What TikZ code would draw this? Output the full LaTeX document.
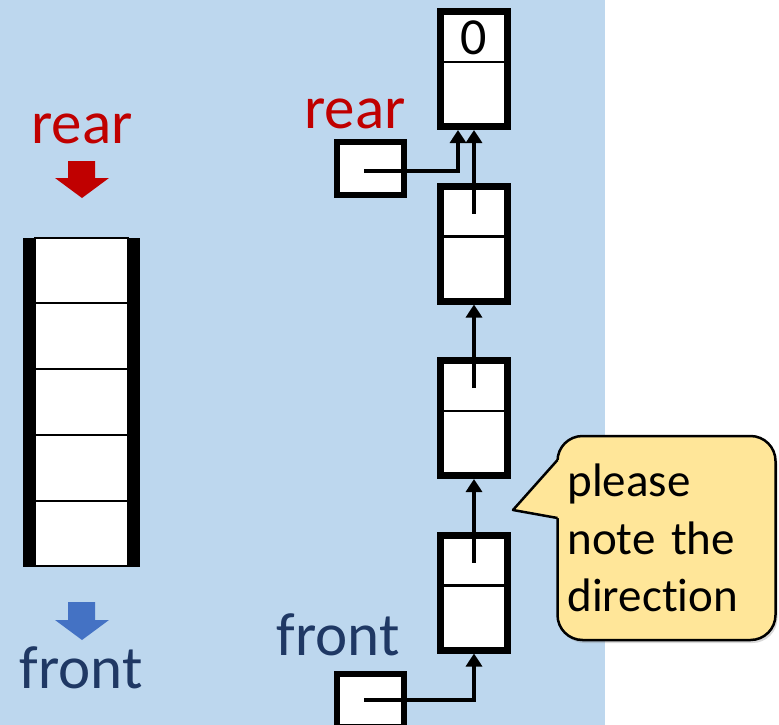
\documentclass[tikz,border=0pt]{standalone}
\usepackage{fontspec}
\setmainfont{Carlito}[Ligatures=NoCommon]
\usepackage{tikz}
\usetikzlibrary{arrows.meta,shadows}

\definecolor{bgblue}{HTML}{BDD7EE}
\definecolor{rearred}{HTML}{C00000}
\definecolor{frontblue}{HTML}{1F3864}
\definecolor{arrowblue}{HTML}{4472C4}
\definecolor{noteyellow}{HTML}{FFE699}

\begin{document}
\begin{tikzpicture}[x=1pt,y=-1pt,
    cell/.style={draw,line width=7pt,fill=white,minimum width=67pt,minimum height=115pt,inner sep=0pt},
    ptrbox/.style={draw,line width=6pt,fill=white,minimum width=67pt,minimum height=53pt,inner sep=0pt},
    ptr/.style={line width=4pt,-{Triangle[length=13pt,width=16pt]}},
    lbl/.style={font=\fontsize{61}{73}\selectfont,anchor=base}]
                \clip (0,0) rectangle (779,725);
                \fill[bgblue] (0,0) rectangle (605,725);
                % array queue
                \draw[line width=2.5pt,fill=white] (35,238) rectangle (128,566);
                \foreach \y in {303,369,435,501}
                    \draw[line width=2.5pt] (35,\y) -- (128,\y);
                \fill (23,238) rectangle (35,567);
                \fill (128,238) rectangle (140,567);
                \node[lbl,text=rearred] (rearA) at (82,143) {rear};
                \fill[rearred] (68,161) -- (95,161) -- (95,178) -- (109,178) -- (82,198) -- (55,178) -- (68,178) -- cycle;
                \fill[arrowblue] (68,602) -- (95,602) -- (95,620) -- (109,620) -- (82,640) -- (55,620) -- (68,620) -- cycle;
                \node[lbl,text=frontblue] (frontA) at (81,688) {front};
                % linked queue
                \foreach \i/\y in {1/69,2/243.5,3/418,4/592.5} {
                    \node[cell] (n\i) at (474,\y) {};
                    \draw[line width=2.5pt] ([yshift=7pt]n\i.west) -- ([yshift=7pt]n\i.east);
                }
                \node[font=\fontsize{52}{60}\selectfont,anchor=base] (zero) at (474,55) {0};
                \foreach \i/\j in {2/1,3/2,4/3}
                    \draw[ptr] ([yshift=30pt]n\i.center) -- (n\j.south);
                \node[ptrbox] (rp) at (370,168) {};
                \node[lbl,text=rearred] (rearB) at (355,128) {rear};
                \draw[ptr] ([xshift=-6pt,yshift=-3pt]rp.center) -| ([xshift=-16pt]n1.south);
                \node[ptrbox] (fp) at (370,700) {};
                \node[lbl,text=frontblue] (frontB) at (338,655) {front};
                \draw[ptr] ([xshift=-6pt]fp.center) -| (n4.south);
                % note
                \node[draw,line width=2.5pt,fill=noteyellow,rounded corners=25pt,
                      minimum width=218pt,minimum height=204pt,text width=198pt,inner xsep=10pt,
                      align=left,font=\fontsize{47}{57.5}\selectfont,
                      drop shadow={opacity=0.3,shadow xshift=2pt,shadow yshift=-3pt}] (note) at (666.5,538) {please\\note the\\direction};
                \coordinate (tip) at (513,510);
                \fill[noteyellow] (tip) -- (557.5,460) -- (561,460) -- (561,518) -- (557.5,518) -- cycle;
                \draw[line width=2.5pt,line join=round] (557.5,460) -- (tip) -- (557.5,518);
\end{tikzpicture}
\end{document}
